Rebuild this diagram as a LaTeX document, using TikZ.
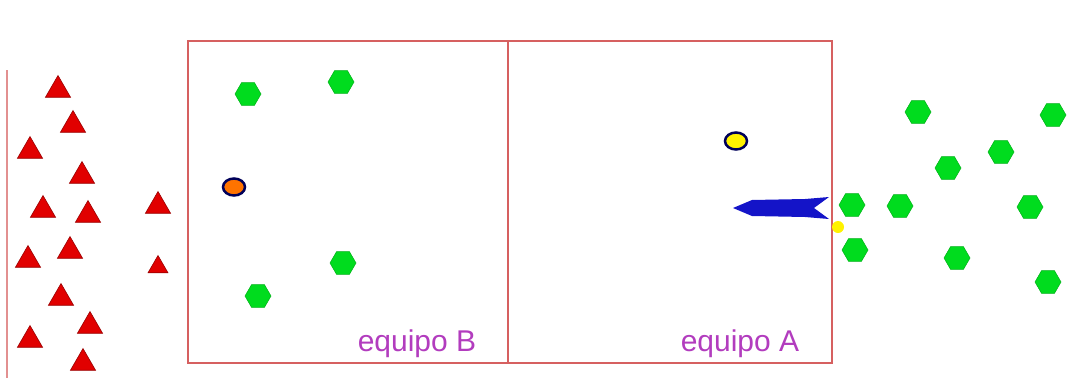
\documentclass[tikz,border=0pt]{standalone}
\usepackage{fontspec}
\setsansfont{Liberation Sans}
\usepackage{tikz}
\usetikzlibrary{shapes.geometric}
\definecolor{campo}{RGB}{214,96,96}
\definecolor{rojo}{RGB}{225,0,0}
\definecolor{verde}{RGB}{0,220,30}
\definecolor{azul}{RGB}{20,20,200}
\definecolor{morado}{RGB}{178,60,190}
\tikzset{
  triangulo/.style={regular polygon, regular polygon sides=3, fill=rojo, draw=red!60!black, line width=0.6pt, minimum size=29pt, inner sep=0pt},
  hexa/.style={regular polygon, regular polygon sides=6, fill=verde, draw=verde!80!black, line width=0.5pt, minimum size=26pt, inner sep=0pt},
  pelota/.style={ellipse, draw=blue!35!black, line width=2.5pt, minimum width=22pt, minimum height=17pt, inner sep=0pt},
  equipo/.style={font=\sffamily\fontsize{30}{31}\selectfont, text=morado}
}
\begin{document}
\begin{tikzpicture}[x=1pt,y=-1pt]
        \useasboundingbox (0,0) rectangle (1074,378);
        % banda izquierda
        \draw[color=campo!70, line width=2pt] (7,70) -- (7,378);
        \foreach \x/\y [count=\i] in {58/90, 73/125, 30/151, 82/176, 43/210, 88/215, 28/260, 70/251, 61/298, 90/326, 30/340, 83/363, 158/206}
            \node[triangulo] (t\i) at (\x,\y) {};
        \node[triangulo, minimum size=23pt] (t14) at (158,267) {};
        % campo
        \draw[color=campo, line width=2.5pt] (188,41) rectangle (832,363);
        \draw[color=campo, line width=2.5pt] (508,41) -- (508,363);
        \foreach \x/\y [count=\i] in {248/94, 341/82, 343/263, 258/296, 852/205, 855/250}
            \node[hexa] (h\i) at (\x,\y) {};
        \node[pelota, fill=orange!90!red] (bB) at (234,187) {};
        \node[pelota, fill=yellow] (bA) at (736,141) {};
        \fill[color=yellow] (838,227) circle (6);
        \fill[color=azul] (733,208) -- (752,200) -- (805,199) -- (829,197) -- (814,208) -- (829,219) -- (805,217) -- (752,216) -- cycle;
        \node[equipo] (eqB) at (417,344) {equipo B};
        \node[equipo] (eqA) at (740,344) {equipo A};
        % banda derecha
        \foreach \x/\y [count=\i] in {918/112, 1053/115, 1001/152, 948/168, 900/206, 1030/207, 957/258, 1048/282}
            \node[hexa] (r\i) at (\x,\y) {};
    \end{tikzpicture}
\end{document}
